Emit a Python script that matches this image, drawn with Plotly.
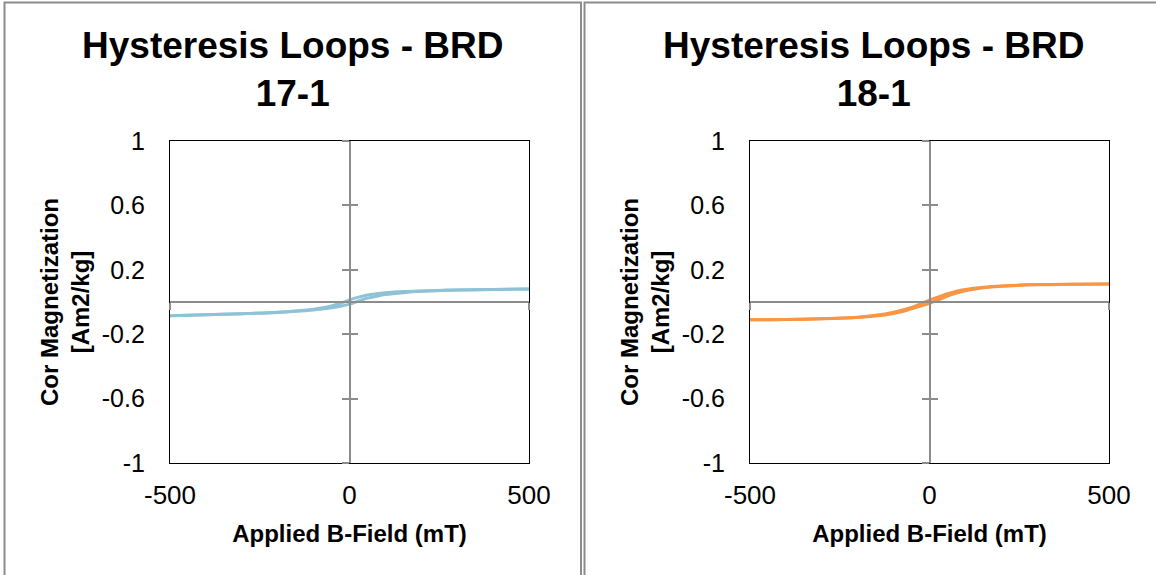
import plotly.graph_objects as go

# ---------------- data ----------------
field_desc = [500, 400, 300, 200, 150, 100, 75, 50, 25, 0, -25, -50, -75, -100, -150, -200, -300, -400, -500]
field_asc = [-500, -400, -300, -200, -150, -100, -75, -50, -25, 0, 25, 50, 75, 100, 150, 200, 300, 400, 500]

brd17_desc = [0.081, 0.078, 0.074, 0.069, 0.065, 0.057, 0.051, 0.043, 0.030, 0.013, -0.008, -0.024, -0.036,
              -0.045, -0.056, -0.064, -0.073, -0.079, -0.085]
brd17_asc = [-0.085, -0.079, -0.073, -0.065, -0.058, -0.049, -0.043, -0.036, -0.026, -0.013, 0.006, 0.024, 0.036,
             0.046, 0.058, 0.066, 0.074, 0.078, 0.081]

brd18_desc = [0.112, 0.111, 0.108, 0.100, 0.092, 0.078, 0.067, 0.051, 0.031, 0.012, -0.012, -0.033, -0.050,
              -0.064, -0.083, -0.094, -0.104, -0.109, -0.110]
brd18_asc = [-0.110, -0.109, -0.104, -0.096, -0.087, -0.071, -0.059, -0.043, -0.026, -0.008, 0.014, 0.036, 0.055,
             0.070, 0.088, 0.098, 0.107, 0.111, 0.112]

titles = ["Hysteresis Loops - BRD<br>17-1", "Hysteresis Loops - BRD<br>18-1"]
x_title = "Applied B-Field (mT)"
y_title = "Cor Magnetization<br>[Am2/kg]"
x_range = [-500, 500]
y_range = [-1, 1]
x_ticks = [-500, 0, 500]
x_ticktext = ["-500", "0", "500"]
y_ticks = [-1, -0.6, -0.2, 0.2, 0.6, 1]
y_ticktext = ["-1", "-0.6", "-0.2", "0.2", "0.6", "1"]

# ---------------- layout geometry ----------------
W, H = 1156, 575
FONT = "Liberation Sans, Arial, sans-serif"
GRAY = "#8c8c8c"
series = [
    (field_desc, brd17_desc, field_asc, brd17_asc, "#8EC3D6"),
    (field_desc, brd18_desc, field_asc, brd18_asc, "#F79646"),
]
plot_px = [(170, 529), (750, 1109)]
panel_px = [(4.5, 581), (584.5, 1163)]
top_px, bot_px = 141, 463
ydom = [1 - bot_px / H, 1 - top_px / H]
ymid = (ydom[0] + ydom[1]) / 2

fig = go.Figure()
layout = dict(
    width=W, height=H, margin=dict(l=0, r=0, t=0, b=0, autoexpand=False),
    paper_bgcolor="white", plot_bgcolor="white", showlegend=False,
    font=dict(family=FONT, color="black"),
    shapes=[], annotations=[],
)

for i, ((xd, desc, xa_, asc, color), (px0, px1), (pp0, pp1), title) in enumerate(
        zip(series, plot_px, panel_px, titles)):
    n = i * 3
    xdom = [px0 / W, px1 / W]
    xmid = (xdom[0] + xdom[1]) / 2
    key = lambda base, k: f"{base}axis" if n + k == 0 else f"{base}axis{n + k + 1}"
    xref = lambda k: "x" if n + k == 0 else f"x{n + k + 1}"
    yref = lambda k: "y" if n + k == 0 else f"y{n + k + 1}"
    for xs, ys in ((xd, desc), (xa_, asc)):
        fig.add_trace(go.Scatter(x=xs, y=ys, mode="lines", line=dict(color=color, width=3, shape="spline"),
                                 xaxis=xref(0), yaxis=yref(0), hoverinfo="skip"))
    # main axes: frame + labels
    layout[key("x", 0)] = dict(
        domain=xdom, range=x_range, anchor=yref(0), showgrid=False, zeroline=False, automargin=False,
        showline=True, mirror=True, linecolor="black", linewidth=1.2,
        tickmode="array", tickvals=x_ticks, ticktext=x_ticktext, ticks="", ticklabelstandoff=9,
        tickfont=dict(size=26, family=FONT, color="black"),
        title=dict(text=x_title, font=dict(size=24, family=FONT, color="black", weight="bold"), standoff=15),
    )
    layout[key("y", 0)] = dict(
        domain=ydom, range=y_range, anchor=xref(0), showgrid=False, zeroline=False, automargin=False,
        showline=True, mirror=True, linecolor="black", linewidth=1.2,
        tickmode="array", tickvals=y_ticks, ticktext=y_ticktext, ticks="", ticklabelstandoff=19,
        tickfont=dict(size=25, family=FONT, color="black"),
        title=dict(text=y_title, font=dict(size=24, family=FONT, color="black", weight="bold"), standoff=5),
    )
    # centre cross axes with cross ticks (outside + inside)
    for k, tdir in ((1, "outside"), (2, "inside")):
        layout[key("x", k)] = dict(
            overlaying=xref(0), domain=xdom, range=x_range, anchor="free", position=ymid, automargin=False,
            showgrid=False, zeroline=False, showline=True, linecolor=GRAY, linewidth=2,
            tickmode="array", tickvals=x_ticks, ticks=tdir, ticklen=7, tickwidth=2, tickcolor=GRAY,
            showticklabels=False,
        )
        layout[key("y", k)] = dict(
            overlaying=yref(0), domain=ydom, range=y_range, anchor="free", position=xmid, automargin=False,
            showgrid=False, zeroline=False, showline=True, linecolor=GRAY, linewidth=2,
            tickmode="array", tickvals=y_ticks, ticks=tdir, ticklen=7, tickwidth=2, tickcolor=GRAY,
            showticklabels=False,
        )
        fig.add_trace(go.Scatter(x=[], y=[], xaxis=xref(k), yaxis=yref(k), hoverinfo="skip"))
    # panel border
    layout["shapes"].append(dict(type="rect", xref="paper", yref="paper",
                                 x0=pp0 / W, x1=pp1 / W, y0=-0.05, y1=1 - 2.5 / H,
                                 line=dict(color=GRAY, width=2), layer="below"))
    # title
    layout["annotations"].append(dict(
        text=f"<b>{title}</b>", xref="paper", yref="paper", x=(pp0 + pp1) / 2 / W, y=1 - 23 / H,
        xanchor="center", yanchor="top", showarrow=False,
        font=dict(size=37, family=FONT, color="black"),
    ))

fig.update_layout(**layout)
fig.write_html("out.html")
